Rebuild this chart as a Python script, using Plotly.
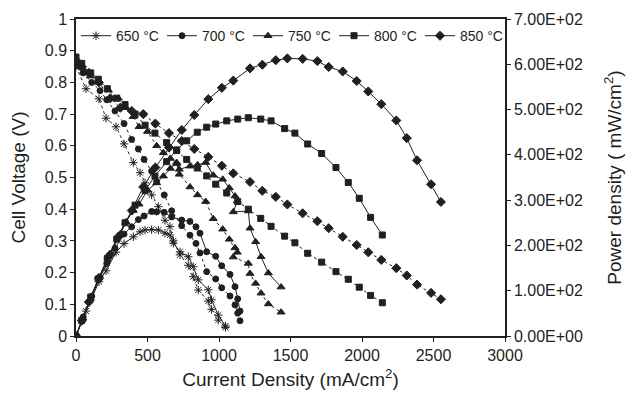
import plotly.graph_objects as go

# ---- data ----
temps = ["650 °C", "700 °C", "750 °C", "800 °C", "850 °C"]

i650 = [0, 70, 161, 210, 280, 336, 401, 448, 483, 529, 576, 622, 657, 681, 727, 785, 820, 855, 925, 948, 995, 1045]
v650 = [0.85, 0.78, 0.748, 0.687, 0.66, 0.606, 0.547, 0.515, 0.483, 0.445, 0.408, 0.365, 0.345, 0.30, 0.256, 0.223, 0.187, 0.145, 0.11, 0.084, 0.05, 0.027]
p650 = [0, 55, 120, 144, 185, 204, 219, 230, 234, 235, 234, 227, 223, 205, 186, 175, 153, 124, 102, 80, 46, 22]

i700 = [0, 50, 110, 168, 215, 273, 336, 389, 436, 476, 529, 564, 617, 669, 739, 797, 839, 867, 914, 977, 1019, 1077, 1112, 1131, 1147]
v700 = [0.86, 0.83, 0.80, 0.774, 0.745, 0.71, 0.67, 0.62, 0.59, 0.557, 0.52, 0.487, 0.445, 0.395, 0.348, 0.318, 0.292, 0.262, 0.203, 0.18, 0.152, 0.126, 0.098, 0.072, 0.048]
p700 = [0, 42, 88, 130, 160, 194, 225, 241, 257, 265, 275, 274, 273, 263, 256, 253, 241, 227, 186, 176, 155, 136, 109, 82, 55]

i750 = [0, 47, 100, 160, 226, 296, 350, 400, 441, 500, 564, 611, 660, 704, 722, 797, 850, 907, 960, 1026, 1072, 1112, 1128, 1100, 1205, 1217, 1256, 1294, 1345, 1434]
v750 = [0.85, 0.845, 0.82, 0.80, 0.776, 0.75, 0.72, 0.692, 0.66, 0.645, 0.60, 0.578, 0.56, 0.544, 0.51, 0.47, 0.445, 0.424, 0.37, 0.337, 0.305, 0.278, 0.264, 0.249, 0.229, 0.197, 0.166, 0.135, 0.101, 0.075]
p750 = [0, 40, 82, 128, 175, 222, 252, 277, 291, 322, 338, 353, 370, 383, 368, 375, 378, 383, 355, 346, 327, 309, 298, 274, 276, 238, 208, 175, 139, 108]

i800 = [0, 40, 103, 156, 219, 285, 343, 413, 483, 552, 634, 704, 774, 848, 914, 977, 1054, 1131, 1205, 1292, 1364, 1459, 1531, 1620, 1718, 1818, 1904, 1981, 2060, 2142]
v800 = [0.88, 0.86, 0.83, 0.81, 0.78, 0.75, 0.73, 0.70, 0.665, 0.64, 0.61, 0.585, 0.557, 0.53, 0.505, 0.479, 0.451, 0.424, 0.40, 0.371, 0.346, 0.315, 0.294, 0.261, 0.233, 0.203, 0.179, 0.154, 0.128, 0.105]
p800 = [0, 34, 86, 126, 171, 214, 250, 289, 321, 353, 385, 411, 431, 450, 461, 468, 475, 479, 482, 479, 475, 458, 448, 424, 403, 372, 339, 304, 262, 223]

i850 = [0, 40, 90, 160, 240, 310, 390, 470, 555, 650, 740, 827, 925, 1020, 1100, 1217, 1303, 1397, 1478, 1585, 1688, 1767, 1865, 1963, 2044, 2135, 2240, 2313, 2385, 2483, 2552]
v850 = [0.87, 0.85, 0.83, 0.80, 0.75, 0.72, 0.71, 0.70, 0.67, 0.64, 0.615, 0.59, 0.565, 0.537, 0.513, 0.486, 0.458, 0.439, 0.415, 0.387, 0.362, 0.340, 0.313, 0.287, 0.264, 0.240, 0.214, 0.191, 0.162, 0.136, 0.116]
p850 = [0, 34, 75, 128, 180, 223, 277, 329, 372, 416, 455, 488, 523, 548, 564, 591, 599, 609, 613, 612, 607, 594, 584, 563, 540, 512, 476, 437, 388, 335, 296]

x_ticks = [0, 500, 1000, 1500, 2000, 2500, 3000]
y2_ticks = [0, 100, 200, 300, 400, 500, 600, 700]
y2_labels = ["0.00E+00", "1.00E+02", "2.00E+02", "3.00E+02", "4.00E+02", "5.00E+02", "6.00E+02", "7.00E+02"]

currents = [i650, i700, i750, i800, i850]
volts = [v650, v700, v750, v800, v850]
powers = [p650, p700, p750, p800, p850]
symbols = ["asterisk-open", "circle", "triangle-up", "square", "diamond"]
sizes = [7, 6, 7, 6, 7]

INK = "#231f20"
fig = go.Figure()
for name, I, V, P, sym, sz in zip(temps, currents, volts, powers, symbols, sizes):
    mk = dict(symbol=sym, size=sz, color=INK, line=dict(color=INK, width=1))
    fig.add_trace(go.Scatter(x=I, y=V, mode="lines+markers", name=name, showlegend=False,
                             line=dict(color=INK, width=1, dash="dot"), marker=mk, yaxis="y"))
    fig.add_trace(go.Scatter(x=I, y=P, mode="lines+markers", name=name, showlegend=True,
                             line=dict(color=INK, width=1), marker=mk, yaxis="y2"))

FONT = "Liberation Sans, Arial, sans-serif"
# the page body adds an 8px margin, so the figure is 8px smaller on each axis
fig.update_layout(
    width=628, height=386,
    margin=dict(l=68, r=131, t=11, b=58, autoexpand=False),
    paper_bgcolor="white", plot_bgcolor="white",
    font=dict(family=FONT, size=16, color=INK),
    showlegend=True,
    legend=dict(orientation="h", x=0, y=0.946, xanchor="left", yanchor="middle",
                font=dict(size=14), bgcolor="rgba(0,0,0,0)",
                entrywidth=41, entrywidthmode="pixels", itemwidth=30,
                tracegroupgap=0),
    xaxis=dict(range=[0, 3000], tickvals=x_ticks, showgrid=False, zeroline=False,
               showline=True, linecolor=INK, linewidth=1.5, mirror=True, automargin=False,
               ticks="outside", ticklen=4, tickcolor=INK,
               title=dict(text="Current Density (mA/cm<sup>2</sup>)", standoff=10)),
    yaxis=dict(range=[0, 1], dtick=0.1, showgrid=False, zeroline=False,
               showline=True, linecolor=INK, linewidth=1.5, automargin=False,
               ticks="outside", ticklen=4, tickcolor=INK,
               title=dict(text="Cell Voltage (V)", standoff=14)),
    yaxis2=dict(range=[0, 700], tickvals=y2_ticks, ticktext=y2_labels, overlaying="y", side="right",
                showgrid=False, zeroline=False, showline=True, linecolor=INK, linewidth=1.5,
                automargin=False, ticks="outside", ticklen=4, tickcolor=INK,
                title=dict(text="Power density ( mW/cm<sup>2</sup>)", standoff=26)),
)

fig.write_html("out.html")
